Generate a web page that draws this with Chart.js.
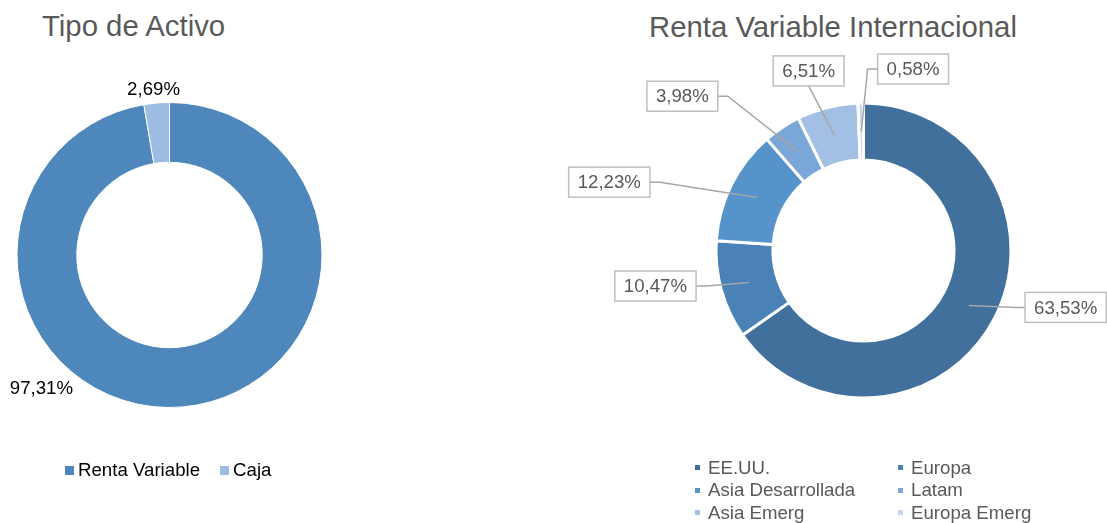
<!DOCTYPE html>
<html lang="es">
<head>
<meta charset="UTF-8" />
<title>Tipo de Activo / Renta Variable Internacional</title>
<script src="https://cdn.jsdelivr.net/npm/chart.js"></script>
<style>
  body { margin: 0; background: #fff; font-family: 'Liberation Sans', Arial, sans-serif; }
  #page { position: relative; width: 1107px; height: 523px; overflow: hidden; }
  canvas { position: absolute; top: 0; }
  #leftChart { left: 0; }
  #rightChart { left: 560px; }
  .title { position: absolute; font-size: 29.33px; line-height: 29px; color: #595959; white-space: nowrap; }
  .legend { position: absolute; font-size: 18.67px; line-height: 22.5px; white-space: nowrap; }
  .legend .item { display: flex; align-items: center; }
  .legend .box { display: inline-block; }
  #leftLegend { left: 65px; top: 459px; display: flex; gap: 20px; color: #000; }
  #leftLegend .box { width: 9px; height: 9px; margin-right: 4px; }
  #rightLegend { left: 695px; top: 456.5px; display: grid; grid-template-columns: 203px 203px; color: #595959; }
  #rightLegend .box { width: 5px; height: 5px; margin-right: 8px; }
</style>
</head>
<body>
<div id="page">
  <div class="title" style="left:42px; top:11px;">Tipo de Activo</div>
  <div class="title" style="left:649px; top:12px;">Renta Variable Internacional</div>
  <canvas id="leftChart" width="340" height="523"></canvas>
  <canvas id="rightChart" width="547" height="523"></canvas>
  <div class="legend" id="leftLegend"></div>
  <div class="legend" id="rightLegend"></div>
</div>

<script>
// Tipo de Activo
const assetLabels = ['Renta Variable', 'Caja'];
const assetValues = [97.31, 2.69];
const assetColors = ['#4e87bc', '#9cbce1'];

// Renta Variable Internacional
const regionLabels = ['EE.UU.', 'Europa', 'Asia Desarrollada', 'Latam', 'Asia Emerg', 'Europa Emerg'];
const regionValues = [63.53, 10.47, 12.23, 3.98, 6.51, 0.58];
const regionColors = ['#41709d', '#4a81b6', '#5693cb', '#7aa7d7', '#a3bfe3', '#c6d6ee'];

Chart.defaults.font.family = "'Liberation Sans', Arial, sans-serif";

function pct(v) {
  return v.toFixed(2).replace('.', ',') + '%';
}

// draws the data labels next to each arc
const arcLabels = {
  id: 'arcLabels',
  afterDatasetsDraw(chart, args, opts) {
    const ctx = chart.ctx;
    const meta = chart.getDatasetMeta(0);
    const values = chart.data.datasets[0].data;
    ctx.save();
    ctx.font = '18.67px ' + Chart.defaults.font.family;
    ctx.textAlign = 'center';
    ctx.textBaseline = 'middle';
    meta.data.forEach((arc, i) => {
      const p = arc.getProps(['x', 'y', 'startAngle', 'endAngle', 'innerRadius', 'outerRadius'], true);
      const mid = (p.startAngle + p.endAngle) / 2;
      const r = (p.innerRadius + p.outerRadius) / 2;
      const cx = p.x + Math.cos(mid) * r;
      const cy = p.y + Math.sin(mid) * r;
      const off = opts.offsets[i];
      const lx = cx + off[0];
      const ly = cy + off[1];
      const text = pct(values[i]);

      if (!opts.boxed) {
        ctx.fillStyle = '#000';
        ctx.fillText(text, lx, ly);
        return;
      }

      const w = ctx.measureText(text).width + 18;
      const h = 30;
      let ax = lx, ay = ly, ex, ey;
      if (off[2] === 'left') { ax = lx + w / 2; ex = ax + 10; ey = ay; }
      else if (off[2] === 'right') { ax = lx - w / 2; ex = ax - 10; ey = ay; }
      else { ay = ly + h / 2; ex = ax; ey = ay; }

      ctx.strokeStyle = '#a6a6a6';
      ctx.lineWidth = 1.5;
      ctx.beginPath();
      ctx.moveTo(cx, cy);
      ctx.lineTo(ex, ey);
      ctx.lineTo(ax, ay);
      ctx.stroke();

      ctx.fillStyle = '#fff';
      ctx.fillRect(lx - w / 2, ly - h / 2, w, h);
      ctx.strokeStyle = '#bfbfbf';
      ctx.lineWidth = 1.5;
      ctx.strokeRect(lx - w / 2, ly - h / 2, w, h);
      ctx.fillStyle = '#595959';
      ctx.fillText(text, lx, ly + 1);
    });
    ctx.restore();
  }
};

new Chart(document.getElementById('leftChart'), {
  type: 'doughnut',
  data: {
    labels: assetLabels,
    datasets: [{ data: assetValues, backgroundColor: assetColors, borderColor: '#fff', borderWidth: 1 }]
  },
  options: {
    responsive: false,
    animation: false,
    cutout: '60.8%',
    layout: { padding: { left: 16.5, right: 17.5, top: 102, bottom: 115 } },
    plugins: {
      legend: { display: false },
      tooltip: { enabled: false },
      arcLabels: { boxed: false, offsets: [[-138.4, 11.4], [-5.6, -43.4]] }
    }
  },
  plugins: [arcLabels]
});

new Chart(document.getElementById('rightChart'), {
  type: 'doughnut',
  data: {
    labels: regionLabels,
    datasets: [{ data: regionValues, backgroundColor: regionColors, borderColor: '#fff', borderWidth: 3 }]
  },
  options: {
    responsive: false,
    animation: false,
    cutout: '61.4%',
    layout: { padding: { left: 154.5, right: 94.5, top: 101.5, bottom: 123.5 } },
    plugins: {
      legend: { display: false },
      tooltip: { enabled: false },
      arcLabels: {
        boxed: true,
        offsets: [[96.6, 1.9, 'right'], [-93.4, 3.5, 'left'], [-147.6, -15.4, 'left'],
                  [-115.3, -55.1, 'left'], [-25.7, -64.2, 'bottom'], [51.8, -62.5, 'right']]
      }
    }
  },
  plugins: [arcLabels]
});

function buildLegend(id, labels, colors) {
  document.getElementById(id).innerHTML = labels.map((l, i) =>
    `<div class="item"><span class="box" style="background:${colors[i]}"></span>${l}</div>`
  ).join('');
}
buildLegend('leftLegend', assetLabels, assetColors);
buildLegend('rightLegend', regionLabels, regionColors);
</script>
</body>
</html>
